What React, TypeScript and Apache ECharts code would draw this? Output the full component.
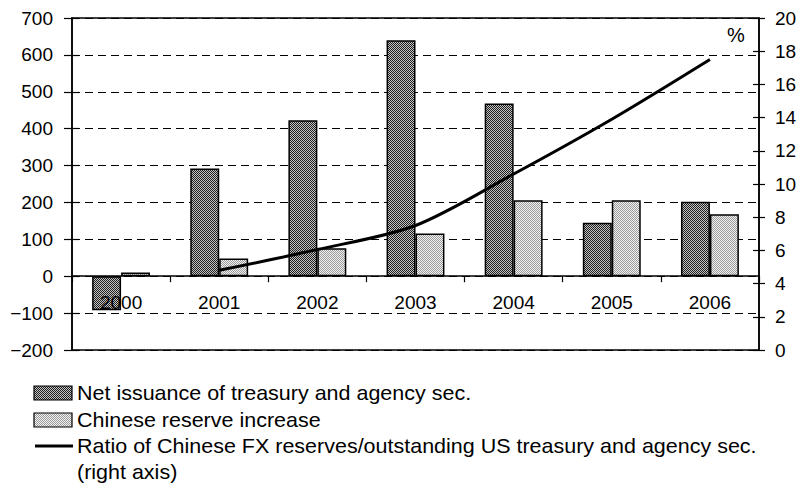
import React, { useEffect, useRef } from 'react';
import * as echarts from 'echarts';

const years = ['2000', '2001', '2002', '2003', '2004', '2005', '2006'];
const netIssuance = [-92, 292, 423, 640, 468, 145, 202];
const chineseReserve = [10, 48, 76, 116, 206, 206, 168];
const ratio: (number | null)[] = [null, 4.8, 6.05, 7.5, 10.6, 13.9, 17.5];
const leftTicks = [-200, -100, 0, 100, 200, 300, 400, 500, 600, 700];
const rightTicks = [0, 2, 4, 6, 8, 10, 12, 14, 16, 18, 20];
const legendNames = [
  'Net issuance of treasury and agency sec.',
  'Chinese reserve increase',
  'Ratio of Chinese FX reserves/outstanding US treasury and agency sec.',
  '(right axis)',
];

const FONT = "'Liberation Sans', Arial, Helvetica, sans-serif";

function makePattern(a: string, b: string) {
  const c = document.createElement('canvas');
  c.width = 2;
  c.height = 2;
  const ctx = c.getContext('2d')!;
  ctx.fillStyle = b;
  ctx.fillRect(0, 0, 2, 2);
  ctx.fillStyle = a;
  ctx.fillRect(0, 0, 1, 1);
  ctx.fillRect(1, 1, 1, 1);
  return c;
}

export default function App() {
  const ref = useRef<HTMLDivElement>(null);
  useEffect(() => {
    if (!ref.current) return;
    const chart = echarts.init(ref.current, undefined, { renderer: 'svg' });
    const darkPat = { image: makePattern('#1e1e1e', '#c4c4c4'), repeat: 'repeat' };
    const lightPat = { image: makePattern('#9a9a9a', '#f2f2f2'), repeat: 'repeat' };
    const lMin = leftTicks[0];
    const lMax = leftTicks[leftTicks.length - 1];
    const lInt = leftTicks[1] - leftTicks[0];
    const rMin = rightTicks[0];
    const rMax = rightTicks[rightTicks.length - 1];
    const rInt = rightTicks[1] - rightTicks[0];
    const minus = (v: number) => String(v).replace('-', '\u2212');
    const gTop = 18;
    const gBottom = 136;
    const plotH = 486 - gTop - gBottom;
    const zeroOffset = -(plotH * (0 - lMin)) / (lMax - lMin);
    const grid = { left: 72, right: 42, top: gTop, bottom: gBottom, show: true, borderColor: '#000', borderWidth: 1.5, backgroundColor: 'transparent' };
    const legX = 34;
    const rows = [393, 420, 446, 472];
    const legText = (i: number) => ({
      type: 'text', x: 77, y: rows[i], scaleX: 1.075,
      style: { text: legendNames[i], fontSize: 20, fontFamily: FONT, fill: '#000', verticalAlign: 'middle' },
    });
    const option: any = {
      animation: false,
      backgroundColor: '#fff',
      textStyle: { fontFamily: FONT, color: '#000' },
      grid,
      xAxis: {
        type: 'category',
        data: years,
        position: 'bottom',
        offset: zeroOffset,
        z: 10,
        axisLine: { onZero: false, lineStyle: { color: '#000', width: 1.5 } },
        axisTick: { show: true, length: 6, lineStyle: { color: '#000', width: 1.2 } },
        axisLabel: { color: '#000', fontSize: 19, fontFamily: FONT, margin: 17 },
        splitLine: { show: false },
      },
      yAxis: [
        {
          type: 'value', position: 'left', min: lMin, max: lMax, interval: lInt,
          axisLine: { show: true, onZero: false, lineStyle: { color: '#000', width: 1.5 } },
          axisTick: { show: true, length: 8, lineStyle: { color: '#000', width: 1.2 } },
          axisLabel: { color: '#000', fontSize: 19, fontFamily: FONT, margin: 19, formatter: minus },
          splitLine: { show: true, lineStyle: { color: '#000', width: 1, type: [8, 5] } },
        },
        {
          type: 'value', position: 'right', min: rMin, max: rMax, interval: rInt,
          axisLine: { show: true, onZero: false, lineStyle: { color: '#000', width: 1.5 } },
          axisTick: { show: true, length: 6, lineStyle: { color: '#000', width: 1.2 } },
          axisLabel: { color: '#000', fontSize: 19, fontFamily: FONT, margin: 16 },
          splitLine: { show: false },
        },
        {
          type: 'value', position: 'left', min: lMin, max: lMax, interval: lInt,
          axisLine: { show: false, onZero: false },
          axisTick: { show: true, inside: true, length: 7, lineStyle: { color: '#000', width: 1.2 } },
          axisLabel: { show: false },
          splitLine: { show: false },
        },
        {
          type: 'value', position: 'right', min: rMin, max: rMax, interval: rInt,
          axisLine: { show: false, onZero: false },
          axisTick: { show: true, inside: true, length: 6, lineStyle: { color: '#000', width: 1.2 } },
          axisLabel: { show: false },
          splitLine: { show: false },
        },
      ],
      series: [
        {
          name: legendNames[0], type: 'bar', data: netIssuance, yAxisIndex: 0,
          barGap: '0%', barCategoryGap: '41%',
          itemStyle: { color: darkPat, borderColor: '#000', borderWidth: 1.5 },
        },
        {
          name: legendNames[1], type: 'bar', data: chineseReserve, yAxisIndex: 0,
          barGap: '0%', barCategoryGap: '41%',
          itemStyle: { color: lightPat, borderColor: '#000', borderWidth: 1.5 },
        },
        {
          name: legendNames[2], type: 'line', data: ratio, yAxisIndex: 1,
          smooth: 0.3, symbol: 'none', z: 5,
          lineStyle: { color: '#000', width: 3 },
        },
      ],
      graphic: [
        { type: 'text', left: 727, top: 25, style: { text: '%', fontSize: 20, fontFamily: FONT, fill: '#000' } },
        { type: 'rect', shape: { x: legX, y: rows[0] - 7, width: 38, height: 14 }, style: { fill: darkPat, stroke: '#000', lineWidth: 1.2 } },
        legText(0),
        { type: 'rect', shape: { x: legX, y: rows[1] - 7, width: 38, height: 14 }, style: { fill: lightPat, stroke: '#000', lineWidth: 1.2 } },
        legText(1),
        { type: 'line', shape: { x1: legX + 1, y1: rows[2], x2: legX + 39, y2: rows[2] }, style: { stroke: '#000', lineWidth: 3 } },
        legText(2),
        legText(3),
      ],
    };
    chart.setOption(option);
    return () => chart.dispose();
  }, []);
  return <div ref={ref} style={{ position: 'fixed', left: 0, top: 0, width: 801, height: 486 }} />;
}
